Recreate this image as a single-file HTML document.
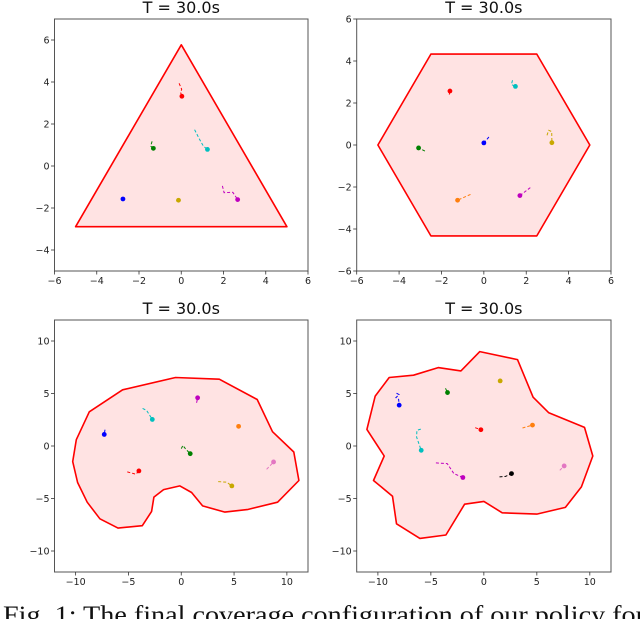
<!DOCTYPE html>
<html><head><meta charset="utf-8"><style>
html,body{margin:0;padding:0;background:#fff;width:640px;height:619px;overflow:hidden}
svg text{font-family:"DejaVu Sans","Liberation Sans",sans-serif}
</style></head><body>
<svg id="fig" width="640" height="619" viewBox="0 0 640 619" xmlns="http://www.w3.org/2000/svg">
<text x="3" y="623" font-size="25" style='font-family:"Liberation Serif",serif' textLength="642" lengthAdjust="spacingAndGlyphs" fill="#111">Fig. 1: The final coverage configuration of our policy for</text>
</svg>
<script>
const NS="http://www.w3.org/2000/svg";
const svg=document.getElementById('fig');
// ----- data -----
const panelNames=["triangle","hexagon","blob","cloud"];
const xRanges=[[-6,6],[-6,6],[-12,12],[-12,12]];
const yRanges=[[-5,7],[-6,6],[-12,12],[-12,12]];
const xTicks=[[-6,-4,-2,0,2,4,6],[-6,-4,-2,0,2,4,6],[-10,-5,0,5,10],[-10,-5,0,5,10]];
const yTicks=[[-4,-2,0,2,4,6],[-6,-4,-2,0,2,4,6],[-10,-5,0,5,10],[-10,-5,0,5,10]];
const polyTriangle=[[0,5.77],[5,-2.89],[-5,-2.89]];
const polyHexagon=[[-2.5,4.33],[2.5,4.33],[5,0],[2.5,-4.33],[-2.5,-4.33],[-5,0]];
const polyBlob=[[-0.54,6.52],[3.6,6.36],[7.19,4.43],[8.64,1.36],[10.66,-0.57],[11.14,-3.29],[9.12,-5.35],[6.34,-6.04],[4.13,-6.3],[2.02,-5.7],[0.98,-4.43],[-0.13,-3.8],[-1.67,-4.15],[-2.59,-4.87],[-2.81,-6.23],[-3.69,-7.59],[-5.99,-7.82],[-7.7,-6.93],[-8.9,-5.35],[-9.81,-3.48],[-10.28,-1.49],[-9.94,0.6],[-8.71,3.26],[-5.55,5.35]];
const polyCloud=[[-0.38,8.99],[3.18,8.23],[4.65,4.65],[6.13,3.16],[9.5,1.77],[10.28,-0.95],[9.21,-3.9],[7.7,-5.85],[5.0,-6.49],[1.73,-6.36],[0,-5.28],[-1.82,-5.54],[-3.58,-8.48],[-6.04,-8.8],[-8.24,-7.41],[-8.62,-4.78],[-10.41,-3.29],[-9.4,-0.95],[-11.04,1.58],[-10.25,4.75],[-8.93,6.52],[-6.64,6.74],[-4.31,7.47],[-2.17,7.15]];
const polygons=[polyTriangle,polyHexagon,polyBlob,polyCloud];
// agents: [color, final x, final y, trail points...]
const agentsTriangle=[
 ["#ff0000",0.03,3.32,[[-0.1,3.94],[0.02,3.65],[-0.03,3.5]]],
 ["#00bfbf",1.24,0.79,[[0.63,1.73],[0.85,1.3],[1.05,0.95]]],
 ["#008000",-1.32,0.84,[[-1.38,1.17],[-1.45,0.95]]],
 ["#0000ff",-2.76,-1.57,[]],
 ["#c8a800",-0.13,-1.63,[[-0.23,-1.68],[-0.15,-1.55]]],
 ["#bf00bf",2.67,-1.6,[[1.95,-0.95],[2.03,-1.27],[2.44,-1.25]]]];
const agentsHexagon=[
 ["#ff0000",-1.6,2.57,[[-1.63,2.4]]],
 ["#00bfbf",1.49,2.79,[[1.35,3.08],[1.3,2.88]]],
 ["#c8a800",3.21,0.11,[[2.98,0.46],[3.06,0.7],[3.2,0.64]]],
 ["#0000ff",0,0.1,[[0.24,0.38]]],
 ["#008000",-3.08,-0.14,[[-2.78,-0.29]]],
 ["#ff7f0e",-1.24,-2.63,[[-0.63,-2.35]]],
 ["#bf00bf",1.7,-2.41,[[2.19,-2.03]]]];
const agentsBlob=[
 ["#0000ff",-7.29,1.1,[[-7.22,1.55]]],
 ["#00bfbf",-2.74,2.53,[[-3.66,3.58],[-3.28,3.39]]],
 ["#bf00bf",1.55,4.59,[[1.45,4.11]]],
 ["#ff7f0e",5.43,1.87,[]],
 ["#008000",0.85,-0.73,[[0.0,-0.25],[0.16,0.06],[0.38,-0.25]]],
 ["#ff0000",-4.01,-2.37,[[-5.11,-2.47],[-4.29,-2.69]]],
 ["#c8a800",4.79,-3.8,[[3.5,-3.39],[4.3,-3.45]]],
 ["#e377c2",8.74,-1.52,[[8.08,-2.22]]]];
const agentsCloud=[
 ["#0000ff",-7.99,3.89,[[-8.24,5.03],[-8.0,4.9],[-8.3,4.6],[-8.05,4.45]]],
 ["#008000",-3.43,5.09,[[-3.62,5.5]]],
 ["#c8a800",1.54,6.2,[]],
 ["#ff0000",-0.28,1.55,[[-0.82,1.74]]],
 ["#ff7f0e",4.59,1.99,[[3.65,1.71]]],
 ["#00bfbf",-5.91,-0.41,[[-5.95,1.61],[-6.32,1.5],[-6.35,0.85]]],
 ["#bf00bf",-1.98,-3.0,[[-4.53,-1.61],[-3.46,-1.68],[-2.83,-2.63]]],
 ["#000000",2.61,-2.63,[[1.48,-2.94],[2.05,-2.9]]],
 ["#e377c2",7.58,-1.9,[[7.17,-2.31]]]];
const agents=[agentsTriangle,agentsHexagon,agentsBlob,agentsCloud];
const boxes=[[54.5,19,253.5,252],[356.7,19,254.3,252],[54.5,320,253.5,252],[356.7,320,254.3,252]];

function mk(tag,attrs,parent){const e=document.createElementNS(NS,tag);for(const k in attrs)e.setAttribute(k,attrs[k]);(parent||svg).appendChild(e);return e;}
function fmt(v){return v<0?"\u2212"+Math.abs(v):""+v;}

for(let p=0;p<4;p++){
  const [bx,by,bw,bh]=boxes[p];
  const xr=xRanges[p],yr=yRanges[p];
  const sx=v=>bx+(v-xr[0])/(xr[1]-xr[0])*bw;
  const sy=v=>by+bh-(v-yr[0])/(yr[1]-yr[0])*bh;
  const g=mk('g',{});
  
  
  const t=mk('text',{x:bx+bw/2,y:by-6,'font-size':16,'text-anchor':'middle',fill:'#111'},g);
  t.textContent="T = 30.0s";
  
  
  const pts=polygons[p].map(q=>sx(q[0]).toFixed(1)+","+sy(q[1]).toFixed(1)).join(" ");
  const poly=mk('polygon',{points:pts,fill:'#ffe3e3',stroke:'#ff0000','stroke-width':1.6,'stroke-linejoin':'round'},g);
  
  
  agents[p].forEach(a=>{
    const tr=a[3].concat([[a[1],a[2]]]);
    if(tr.length>1){
      const pl=mk('polyline',{points:tr.map(q=>sx(q[0]).toFixed(1)+","+sy(q[1]).toFixed(1)).join(" "),fill:'none',stroke:a[0],'stroke-width':1,'stroke-dasharray':'3,2'},g);
      
      
    }
    const c=mk('circle',{cx:sx(a[1]),cy:sy(a[2]),r:2.4,fill:a[0]},g);
    
    
  });
  const fr=mk('rect',{x:bx,y:by,width:bw,height:bh,fill:'none',stroke:'#555','stroke-width':1},g);
  
  
  xTicks[p].forEach(v=>{
    const x=sx(v);
    mk('line',{x1:x,x2:x,y1:by+bh,y2:by+bh+3.5,stroke:'#333','stroke-width':0.8},g);
    const l=mk('text',{x:x,y:by+bh+13,'font-size':9.5,'text-anchor':'middle',fill:'#222'},g);
    l.textContent=fmt(v);
    
    
  });
  yTicks[p].forEach(v=>{
    const y=sy(v);
    mk('line',{x1:bx-3.5,x2:bx,y1:y,y2:y,stroke:'#333','stroke-width':0.8},g);
    const l=mk('text',{x:bx-5,y:y+3.3,'font-size':9.5,'text-anchor':'end',fill:'#222'},g);
    l.textContent=fmt(v);
    
    
  });
}
</script>
</body></html>
